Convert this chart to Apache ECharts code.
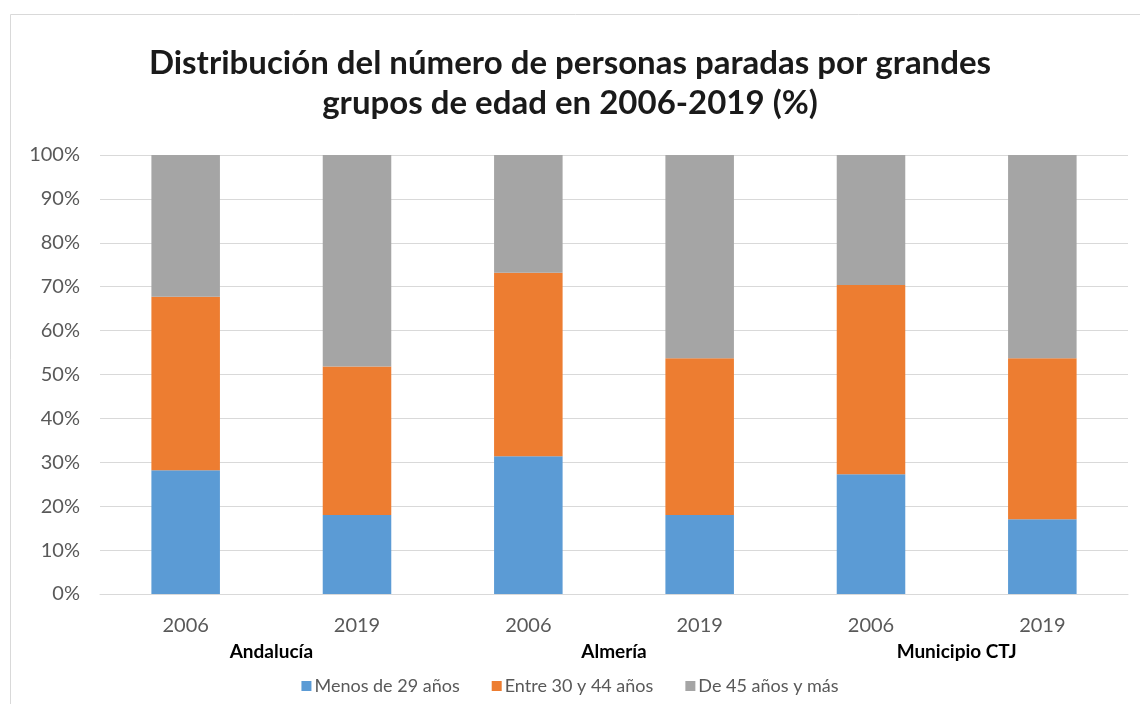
<!DOCTYPE html>
<html>
<head>
<meta charset="utf-8">
<script src="https://cdn.jsdelivr.net/npm/echarts@6/dist/echarts.min.js"></script>
<style>
  html, body { margin: 0; padding: 0; background: #fff; }
  #chart { width: 1140px; height: 704px; }
</style>
</head>
<body>
<div id="chart"></div>
<script>
// años y grupos del eje X
const years = ['2006', '2019', '2006', '2019', '2006', '2019']
const groups = ['Andalucía', 'Almería', 'Municipio CTJ']
const seriesNames = ['Menos de 29 años', 'Entre 30 y 44 años', 'De 45 años y más']

// porcentajes
const menos29 = [28.2, 18.0, 31.4, 18.0, 27.3, 17.0]
const entre30y44 = [39.5, 33.8, 41.8, 35.7, 43.1, 36.7]
const de45 = [32.3, 48.2, 26.8, 46.3, 29.6, 46.3]

const colors = ['#5b9bd5', '#ed7d31', '#a5a5a5']
const font = 'Lato, "Open Sans", sans-serif'

let myChart = echarts.init(document.getElementById('chart'))

function makeSerie (name, data) {
  return {
    name: name,
    type: 'bar',
    stack: 'total',
    barWidth: '40%',
    xAxisIndex: 0,
    data: data
  }
}

let option = {
  animation: false,
  color: colors,
  graphic: [{
    type: 'rect',
    shape: { x: 10.5, y: 14.5, width: 1200, height: 800 },
    style: { fill: 'none', stroke: '#d9d9d9', lineWidth: 1 },
    silent: true
  }],
  title: {
    text: 'Distribución del número de personas paradas por grandes\ngrupos de edad en 2006-2019 (%)',
    left: 'center',
    top: 38,
    textStyle: {
      fontFamily: font,
      fontSize: 33,
      fontWeight: 'bold',
      color: '#1a1a1a',
      lineHeight: 40
    }
  },
  legend: {
    data: seriesNames,
    bottom: 4,
    left: 'center',
    itemWidth: 10,
    itemHeight: 10,
    itemGap: 32,
    icon: 'rect',
    textStyle: { fontFamily: font, fontSize: 18, color: '#595959', padding: [0, 0, 0, -2] }
  },
  grid: {
    left: 100,
    right: 12,
    top: 155,
    bottom: 110
  },
  xAxis: [
    {
      type: 'category',
      data: years,
      axisLine: { lineStyle: { color: '#d9d9d9', width: 1 } },
      axisTick: { show: false },
      axisLabel: { fontFamily: font, fontSize: 20, color: '#595959', margin: 22 }
    },
    {
      type: 'category',
      data: groups,
      position: 'bottom',
      offset: 34,
      axisLine: { show: false },
      axisTick: { show: false },
      axisLabel: { fontFamily: font, fontSize: 19, fontWeight: 'bold', color: '#000', margin: 14 }
    }
  ],
  yAxis: {
    type: 'value',
    min: 0,
    max: 100,
    interval: 10,
    axisLine: { show: false },
    axisTick: { show: false },
    splitLine: { lineStyle: { color: '#d9d9d9', width: 1 } },
    axisLabel: {
      fontFamily: font,
      fontSize: 20,
      color: '#595959',
      margin: 20,
      formatter: '{value}%'
    }
  },
  series: [
    makeSerie(seriesNames[0], menos29),
    makeSerie(seriesNames[1], entre30y44),
    makeSerie(seriesNames[2], de45)
  ]
}

myChart.setOption(option)
</script>
</body>
</html>
